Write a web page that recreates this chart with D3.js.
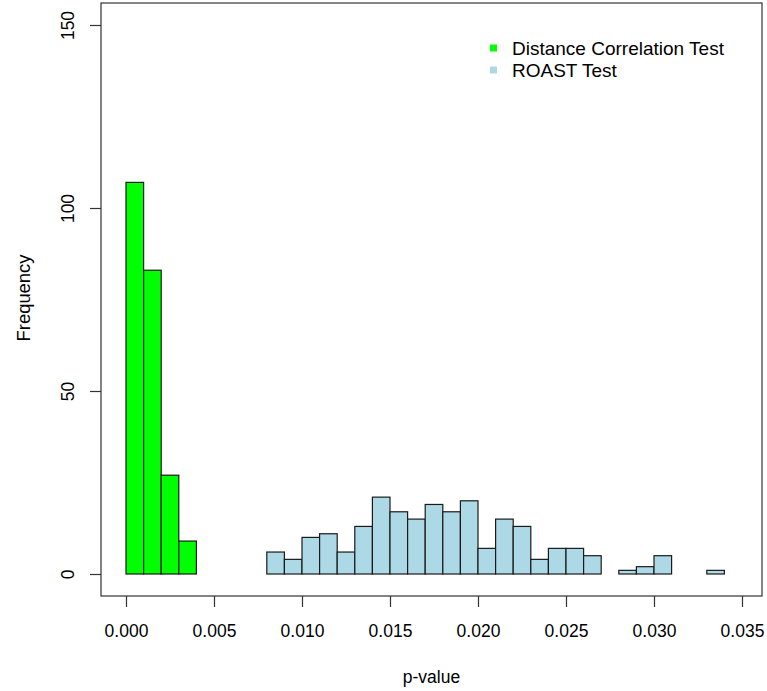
<!DOCTYPE html>
<html>
<head>
<meta charset="utf-8">
<script src="https://cdn.jsdelivr.net/npm/d3@7"></script>
<style>
  html, body { margin: 0; padding: 0; background: #fff; }
  svg { display: block; }
  text { font-family: "Liberation Sans", Arial, sans-serif; fill: #000; }
</style>
</head>
<body>
<svg id="chart" width="767" height="691"></svg>
<script>
// Histogram bin edges and counts (bin width 0.001)
const dcorBreaks = [0.000, 0.001, 0.002, 0.003, 0.004];
const dcorCounts = [107, 83, 27, 9];

const roastBreaks = [0.008, 0.009, 0.010, 0.011, 0.012, 0.013, 0.014, 0.015, 0.016,
                     0.017, 0.018, 0.019, 0.020, 0.021, 0.022, 0.023, 0.024, 0.025,
                     0.026, 0.027, 0.028, 0.029, 0.030, 0.031, 0.032, 0.033, 0.034];
const roastCounts = [6, 4, 10, 11, 6, 13, 21, 17, 15, 19, 17, 20, 7, 15, 13, 4, 7, 7,
                     5, 0, 1, 2, 5, 0, 0, 1];

const xTicks = [0.000, 0.005, 0.010, 0.015, 0.020, 0.025, 0.030, 0.035];
const yTicks = [0, 50, 100, 150];

const seriesNames = ["Distance Correlation Test", "ROAST Test"];
const seriesColors = ["#00ff00", "#add8e6"];

const svg = d3.select("#chart");
const FONT = 17.5;

const x = d3.scaleLinear().domain([0, 0.035]).range([126, 742]);
const y = d3.scaleLinear().domain([0, 150]).range([574, 25]);

const box = { left: 101, right: 762, top: 3, bottom: 596 };

function bins(breaks, counts) {
  return counts.map((c, i) => ({ x0: breaks[i], x1: breaks[i + 1], n: c }));
}

// Bars
[[bins(dcorBreaks, dcorCounts), seriesColors[0]],
 [bins(roastBreaks, roastCounts), seriesColors[1]]].forEach(([data, col]) => {
  svg.append("g")
    .selectAll("rect")
    .data(data)
    .join("rect")
    .attr("x", d => x(d.x0))
    .attr("width", d => x(d.x1) - x(d.x0))
    .attr("y", d => y(d.n))
    .attr("height", d => y(0) - y(d.n))
    .attr("fill", col)
    .attr("stroke", "#1a1a1a")
    .attr("stroke-width", 1.2);
});

// Plot frame
svg.append("rect")
  .attr("x", box.left).attr("y", box.top)
  .attr("width", box.right - box.left).attr("height", box.bottom - box.top)
  .attr("fill", "none").attr("stroke", "#333").attr("stroke-width", 1.2);

// X axis
const gx = svg.append("g")
  .attr("transform", `translate(0,${box.bottom})`)
  .call(d3.axisBottom(x).tickValues(xTicks).tickFormat(d3.format(".3f"))
        .tickSize(11).tickPadding(18).tickSizeOuter(0));
gx.select(".domain").remove();
gx.selectAll("line").attr("stroke", "#333").attr("stroke-width", 1.2);
gx.selectAll("text").attr("font-size", FONT).attr("font-family", "Liberation Sans, Arial, sans-serif");

// Y axis with labels turned parallel to the axis
const gy = svg.append("g")
  .attr("transform", `translate(${box.left},0)`)
  .call(d3.axisLeft(y).tickValues(yTicks).tickSize(11).tickSizeOuter(0));
gy.select(".domain").remove();
gy.selectAll("line").attr("stroke", "#333").attr("stroke-width", 1.2);
gy.selectAll("text")
  .attr("font-size", FONT)
  .attr("font-family", "Liberation Sans, Arial, sans-serif")
  .attr("x", null).attr("dy", null)
  .attr("text-anchor", "middle")
  .attr("transform", "translate(-27,0) rotate(-90)");

// Axis titles
svg.append("text")
  .attr("x", (box.left + box.right) / 2).attr("y", 683)
  .attr("text-anchor", "middle").attr("font-size", FONT)
  .text("p-value");

svg.append("text")
  .attr("transform", `translate(30,298) rotate(-90)`)
  .attr("text-anchor", "middle").attr("font-size", 18.4)
  .text("Frequency");

// Legend
const legend = svg.append("g").attr("transform", "translate(490,48)");
seriesNames.forEach((name, i) => {
  const row = legend.append("g").attr("transform", `translate(0,${i * 22})`);
  row.append("rect")
    .attr("x", 0).attr("y", -3.5).attr("width", 7).attr("height", 7)
    .attr("fill", seriesColors[i]);
  row.append("text")
    .attr("x", 22).attr("y", 7)
    .attr("font-size", 19)
    .text(name);
});
</script>
</body>
</html>
